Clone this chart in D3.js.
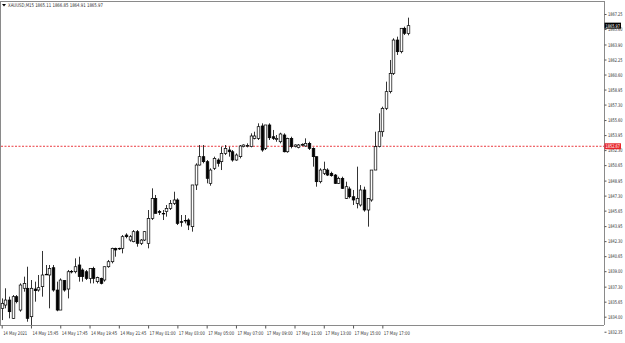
<!DOCTYPE html>
<html><head><meta charset="utf-8">
<script src="https://cdn.jsdelivr.net/npm/d3@7"></script>
<style>html,body{margin:0;padding:0;background:#fff;}svg{display:block;}</style>
</head><body>
<svg id="c" width="625" height="343"></svg>
<script>
const opens  = [1834.92,1835.28,1835.83,1833.82,1836.20,1834.73,1837.12,1837.12,1834.00,1837.04,1836.93,1837.30,1838.65,1838.58,1839.38,1836.93,1834.73,1837.96,1837.04,1838.94,1838.94,1839.68,1839.13,1838.94,1838.21,1839.31,1837.85,1838.21,1838.03,1839.49,1840.04,1841.51,1841.51,1841.51,1842.97,1842.42,1842.24,1843.34,1842.06,1842.42,1842.06,1844.80,1847.00,1845.54,1845.35,1845.54,1845.90,1846.45,1846.82,1844.44,1844.51,1844.62,1843.89,1848.47,1850.66,1851.58,1851.03,
1848.65,1850.30,1851.21,1851.03,1851.94,1852.31,1852.12,1851.21,1851.58,1852.68,1852.75,1852.68,1853.59,1853.59,1854.95,1852.49,1855.06,1853.77,1853.48,1853.22,1853.96,1852.12,1853.59,1852.68,1852.60,1852.86,1852.75,1853.04,1852.49,1851.58,1848.83,1849.75,1850.11,1849.75,1849.56,1848.65,1849.20,1847.00,1848.03,1847.18,1846.45,1846.27,1847.92,1845.72,1846.82,1850.11,1852.68,1854.32,1856.89,1858.72,1860.73,1864.39,1863.11,1865.68,1865.11];
const highs  = [1836.01,1837.12,1836.20,1836.38,1836.38,1837.66,1838.40,1839.49,1838.03,1837.85,1838.58,1841.22,1839.68,1839.68,1839.68,1837.85,1838.21,1838.03,1839.13,1839.13,1840.41,1840.59,1839.31,1839.13,1839.31,1839.49,1838.40,1838.29,1839.49,1840.23,1841.58,1841.58,1841.58,1842.97,1843.16,1842.97,1843.52,1843.52,1842.53,1843.41,1845.72,1848.10,1847.37,1845.72,1845.72,1846.27,1846.82,1847.73,1847.00,1845.17,1845.17,1844.80,1848.47,1850.85,1852.86,1852.86,1851.21,
1850.30,1851.58,1851.39,1852.68,1852.86,1852.68,1852.31,1851.94,1852.86,1852.93,1853.04,1854.14,1854.32,1855.24,1855.24,1855.06,1855.24,1854.51,1853.96,1854.21,1854.14,1853.66,1853.77,1852.93,1852.97,1853.04,1853.59,1853.22,1852.60,1851.58,1850.30,1851.03,1850.30,1849.93,1849.67,1849.38,1849.38,1848.83,1848.28,1847.92,1850.48,1848.46,1848.28,1847.00,1850.11,1854.32,1856.34,1857.07,1859.82,1862.20,1864.58,1864.76,1865.68,1865.86,1866.85];
const lows   = [1833.63,1834.92,1833.82,1833.75,1835.47,1834.55,1836.75,1833.45,1833.09,1835.65,1836.75,1836.20,1838.58,1834.92,1836.75,1834.60,1834.73,1836.75,1836.01,1838.76,1838.76,1837.85,1837.85,1838.03,1837.66,1837.66,1837.66,1837.55,1837.85,1839.38,1839.86,1840.59,1841.33,1840.96,1842.61,1842.24,1842.17,1841.69,1841.87,1842.31,1841.51,1844.62,1845.35,1845.17,1844.62,1844.99,1845.72,1846.27,1844.07,1843.89,1844.25,1843.52,1843.34,1847.92,1850.60,1850.85,1848.65,
1848.39,1850.11,1850.48,1850.11,1851.76,1851.58,1851.03,1851.13,1851.39,1852.60,1852.60,1852.60,1853.48,1853.41,1852.12,1852.31,1853.41,1853.41,1853.22,1853.04,1852.05,1852.01,1852.49,1852.60,1852.49,1852.75,1852.68,1852.31,1850.48,1848.28,1848.65,1849.56,1849.45,1849.38,1848.58,1848.58,1848.03,1846.93,1847.00,1846.27,1845.90,1846.09,1845.54,1843.89,1846.63,1850.11,1852.60,1853.77,1856.70,1858.53,1860.55,1862.75,1862.93,1864.94,1864.91];
const closes = [1835.47,1835.83,1834.55,1836.20,1835.65,1837.48,1837.66,1833.82,1837.12,1836.86,1837.19,1838.58,1838.66,1839.31,1836.93,1834.73,1838.03,1836.93,1838.94,1838.98,1839.49,1838.40,1838.40,1838.21,1839.31,1838.21,1838.29,1837.66,1839.49,1840.04,1841.51,1841.33,1841.47,1842.79,1842.79,1842.79,1843.34,1842.06,1842.42,1843.34,1844.80,1847.00,1845.35,1845.46,1845.32,1845.90,1846.45,1846.82,1844.25,1844.37,1844.58,1844.07,1848.47,1850.66,1851.58,1851.03,1849.20,
1850.11,1851.39,1850.85,1851.94,1852.49,1852.12,1851.21,1851.76,1852.75,1852.86,1852.79,1853.85,1853.85,1854.87,1852.31,1855.06,1853.66,1853.59,1853.59,1854.07,1852.12,1853.59,1852.68,1852.86,1852.86,1852.90,1853.04,1852.49,1851.58,1848.83,1850.11,1850.19,1849.56,1849.49,1848.65,1849.20,1848.10,1848.28,1847.18,1846.82,1847.00,1847.92,1845.72,1847.00,1850.11,1852.68,1854.32,1856.89,1858.72,1860.73,1864.39,1863.11,1865.68,1865.13,1865.97];

const priceTicks = ["1867.25","1865.60","1863.90","1862.25","1860.60","1858.95","1857.30","1855.60","1853.95","1852.30","1850.65","1848.95","1847.30","1845.65","1843.95","1842.30","1840.65","1839.00","1837.30","1835.65","1834.00","1832.35"];
const timeLabels = ["14 May 2021","14 May 15:45","14 May 17:45","14 May 19:45","14 May 21:45","17 May 01:00","17 May 03:00","17 May 05:00","17 May 07:00","17 May 09:00","17 May 11:00","17 May 13:00","17 May 15:00","17 May 17:00"];
const timeLabelBars = [0,8,16,24,32,40,48,56,64,72,80,88,96,104];
const titleText = "XAUUSD,M15  1865.11 1866.85 1864.91 1865.97";
const levelLine = 1852.72;
const levelLabel = "1852.67";
const lastPrice = 1865.97;

const svg = d3.select("#c");
const plotRight = 604, plotBottom = 325;
const n = closes.length;

const x = d3.scaleLinear().domain([0, n - 1]).range([1.7, 1.7 + (n - 1) * 3.66]);
const y = d3.scaleLinear().domain([1867.25, 1834.00]).range([14, 316.7]);

const fontFam = "'DejaVu Sans', sans-serif";
const fs = 5.2;

// squeeze a text element horizontally to a target width (pixel-font look)
function squeeze(sel, target) {
  sel.each(function (d, i) {
    const t = d3.select(this);
    const w = this.getComputedTextLength();
    const tw = typeof target === "function" ? target(d, i) : target;
    const s = tw / w;
    const x0 = +(t.attr("x") || 0);
    t.attr("x", x0 / s).attr("dx", null);
    const prev = t.attr("transform") || "";
    t.attr("transform", prev + ` scale(${s},1)`);
  });
}

// frame
svg.append("line").attr("x1", 0.5).attr("x2", 0.5).attr("y1", 1).attr("y2", plotBottom).attr("stroke", "#8a8a8a").attr("stroke-width", 1);
svg.append("line").attr("x1", 0).attr("x2", plotRight).attr("y1", 1.5).attr("y2", 1.5).attr("stroke", "#8a8a8a").attr("stroke-width", 1);

// right axis
const yAxis = d3.axisRight(y).tickValues(priceTicks.map(Number)).tickSize(2).tickPadding(1.5).tickFormat((d, i) => priceTicks[i]);
const ya = svg.append("g").attr("transform", `translate(${plotRight + 0.5},0)`).call(yAxis);
ya.select(".domain").attr("stroke", "#8a8a8a").attr("d", `M0,1V${plotBottom}`);
ya.selectAll(".tick line").attr("stroke", "#555");
ya.selectAll(".tick text").attr("font-size", fs).attr("font-family", fontFam).attr("fill", "#333");
squeeze(ya.selectAll(".tick text"), 14.5);

// bottom axis
const xa = svg.append("g").attr("transform", `translate(0,${plotBottom + 0.5})`)
  .call(d3.axisBottom(x).tickValues(timeLabelBars).tickSize(3).tickPadding(2.5).tickFormat((d, i) => timeLabels[i]));
xa.select(".domain").attr("stroke", "#8a8a8a").attr("d", `M0,0H${plotRight}`);
xa.selectAll(".tick line").attr("stroke", "#555");
xa.selectAll(".tick text").attr("text-anchor", "start").attr("font-size", fs).attr("font-family", fontFam).attr("fill", "#333").attr("x", 1);
squeeze(xa.selectAll(".tick text"), (d, i) => i === 0 ? 24 : 26);

// level line
svg.append("line").attr("x1", 1).attr("x2", plotRight).attr("y1", y(levelLine)).attr("y2", y(levelLine))
  .attr("stroke", "#e8242a").attr("stroke-width", 0.9).attr("stroke-dasharray", "2,1.5");

// candles
const bw = 2.6;
const g = svg.append("g");
const idx = d3.range(n);
g.selectAll("line.w").data(idx).join("line").attr("class", "w")
  .attr("x1", i => Math.round(x(i)) + 0.5).attr("x2", i => Math.round(x(i)) + 0.5)
  .attr("y1", i => y(highs[i])).attr("y2", i => y(lows[i]))
  .attr("stroke", "#000").attr("stroke-width", 0.8);
g.selectAll("rect.b").data(idx).join("rect").attr("class", "b")
  .attr("x", i => Math.round(x(i)) + 0.5 - bw / 2)
  .attr("y", i => y(Math.max(opens[i], closes[i])))
  .attr("width", bw)
  .attr("height", i => Math.max(0.6, Math.abs(y(opens[i]) - y(closes[i]))))
  .attr("fill", i => closes[i] >= opens[i] ? "#fff" : "#000")
  .attr("stroke", "#000").attr("stroke-width", 0.7);

// title
svg.append("path").attr("d", "M2,4 L6,4 L4,6.5 Z").attr("fill", "#000");
const tt = svg.append("text").attr("x", 8).attr("y", 7).attr("font-size", fs).attr("font-family", fontFam).attr("fill", "#333").text(titleText);
squeeze(tt, 95);

// level label (drawn over the axis tick it hides, as in the original)
const ly = y(levelLine);
svg.append("rect").attr("x", plotRight + 0.5).attr("y", ly - 3).attr("width", 16.5).attr("height", 6).attr("fill", "#e8242a");
const lt = svg.append("text").attr("x", plotRight + 1.5).attr("y", ly + 2).attr("font-size", fs).attr("font-family", fontFam).attr("fill", "#fff").text(levelLabel);
squeeze(lt, 14.5);

// last price label
const lp = y(lastPrice);
svg.append("rect").attr("x", plotRight + 0.5).attr("y", lp - 3).attr("width", 16.5).attr("height", 6).attr("fill", "#000");
const pt = svg.append("text").attr("x", plotRight + 1.5).attr("y", lp + 2).attr("font-size", fs).attr("font-family", fontFam).attr("fill", "#fff").text(lastPrice.toFixed(2));
squeeze(pt, 14.5);
</script>
</body></html>
